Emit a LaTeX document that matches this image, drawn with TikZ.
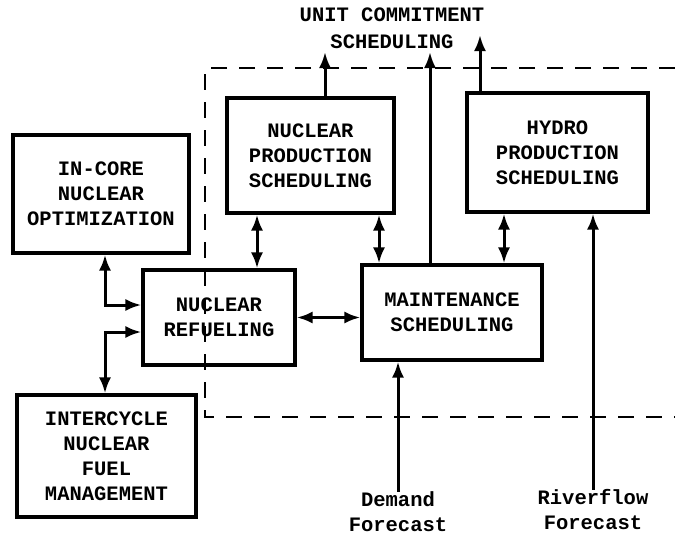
\documentclass[tikz,border=0pt]{standalone}
\usepackage{fontspec}
\setmainfont{Liberation Mono}
\usetikzlibrary{arrows.meta}
\tikzstyle{blk} = [draw,line width=3.2pt,align=center,inner sep=0pt,font=\bfseries\fontsize{20.5}{25}\selectfont]
\tikzstyle{lbl} = [align=center,inner sep=0pt,font=\bfseries\fontsize{20.5}{25}\selectfont]
\tikzstyle{conn} = [line width=3pt]
\tikzstyle{dbl} = [conn,{Latex[length=16pt,width=12pt]}-{Latex[length=16pt,width=12pt]}]
\tikzstyle{one} = [conn,-{Latex[length=16pt,width=12pt]}]
\tikzstyle{bound} = [line width=2.6pt,dash pattern=on 16pt off 12pt]

\begin{document}
\begin{tikzpicture}[x=1pt,y=-1pt]
\useasboundingbox (0,0) rectangle (675,536);

% boxes
\node[blk,minimum width=176pt,minimum height=118pt] (incore) at (101,194) {IN-CORE\\NUCLEAR\\OPTIMIZATION};
\node[blk,minimum width=179pt,minimum height=122pt] (inter) at (106.5,456) {INTERCYCLE\\NUCLEAR\\FUEL\\MANAGEMENT};
\node[blk,minimum width=152pt,minimum height=95pt] (refuel) at (219,317.5) {NUCLEAR\\REFUELING};
\node[blk,minimum width=167pt,minimum height=115pt] (nprod) at (310.5,155.5) {NUCLEAR\\PRODUCTION\\SCHEDULING};
\node[blk,minimum width=180pt,minimum height=95pt] (maint) at (452,312.5) {MAINTENANCE\\SCHEDULING};
\node[blk,minimum width=181pt,minimum height=119pt] (hydro) at (557.5,152.5) {HYDRO\\PRODUCTION\\SCHEDULING};

% outside texts
\node[lbl,font=\bfseries\fontsize{20.5}{27}\selectfont] (ucs) at (392,28) {UNIT COMMITMENT\\SCHEDULING};
\node[lbl] (demand) at (398,512) {Demand\\Forecast};
\node[lbl] (river) at (593,510) {Riverflow\\Forecast};

% helper coordinates
\coordinate (xl) at (105,0);
\coordinate (xa) at (257,0);
\coordinate (xb) at (379,0);
\coordinate (xc) at (504,0);
\coordinate (ya) at (0,305);
\coordinate (yb) at (0,332);
\coordinate (ucL) at (325,52);
\coordinate (ucM) at (430,52);
\coordinate (ucR) at (480,35);

% dashed boundary
\draw[bound] (675,68) -- (205,68) -- (205,417) -- (675,417);

% connectors
\draw[dbl] (incore.south -| xl) |- (refuel.west |- ya);
\draw[dbl] (refuel.west |- yb) -| (inter.north -| xl);
\draw[dbl] (nprod.south -| xa) -- (refuel.north -| xa);
\draw[dbl] (nprod.south -| xb) -- (maint.north -| xb);
\draw[dbl] (hydro.south -| xc) -- (maint.north -| xc);
\draw[dbl] (refuel.east) -- (maint.west |- refuel.east);
\draw[one] (nprod.north -| ucL) -- (ucL);
\draw[one] (maint.north -| ucM) -- (ucM);
\draw[one] (hydro.north -| ucR) -- (ucR);
\draw[one] (demand.north) -- (demand.north |- maint.south);
\draw[one] (river.north) -- (river.north |- hydro.south);

\end{tikzpicture}
\end{document}
